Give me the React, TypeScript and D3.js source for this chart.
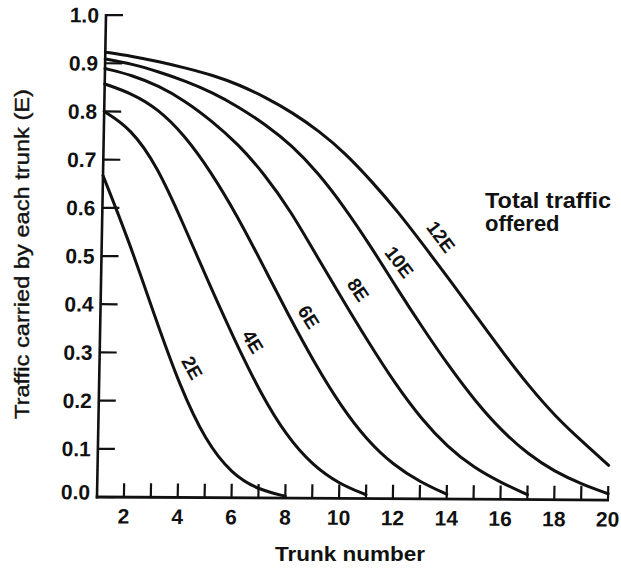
import React from 'react';
import * as d3 from 'd3';

const TRUNKS = [1, 2, 3, 4, 5, 6, 7, 8, 9, 10, 11, 12, 13, 14, 15, 16, 17, 18, 19, 20];
const X_TICKS = [2, 3, 4, 5, 6, 7, 8, 9, 10, 11, 12, 13, 14, 15, 16, 17, 18, 19, 20];
const X_TICK_LABELS = [2, 4, 6, 8, 10, 12, 14, 16, 18, 20];
const Y_TICKS = [0, 0.1, 0.2, 0.3, 0.4, 0.5, 0.6, 0.7, 0.8, 0.9, 1.0];

// traffic carried by each trunk (E), trunk 1 onwards
const carried2E = [0.667, 0.533, 0.379, 0.231, 0.117, 0.049, 0.017, 0.004];
const carried4E = [0.80, 0.765, 0.688, 0.57, 0.446, 0.328, 0.218, 0.129, 0.068, 0.03, 0.008];
const carried6E = [0.857, 0.838, 0.806, 0.752, 0.677, 0.587, 0.484, 0.379, 0.28, 0.192, 0.121, 0.07, 0.035, 0.01];
const carried8E = [0.889, 0.876, 0.854, 0.823, 0.782, 0.734, 0.672, 0.596, 0.503, 0.412, 0.323, 0.239, 0.166, 0.108, 0.065, 0.035, 0.01];
const carried10E = [0.909, 0.899, 0.883, 0.864, 0.841, 0.811, 0.775, 0.732, 0.675, 0.604, 0.524, 0.437, 0.354, 0.275, 0.203, 0.142, 0.094, 0.058, 0.033, 0.013];
const carried12E = [0.923, 0.915, 0.904, 0.891, 0.877, 0.857, 0.831, 0.80, 0.762, 0.716, 0.658, 0.595, 0.524, 0.452, 0.378, 0.304, 0.234, 0.172, 0.121, 0.072];

const SERIES_NAMES = ['2E', '4E', '6E', '8E', '10E', '12E'];
const SERIES_VALUES = [carried2E, carried4E, carried6E, carried8E, carried10E, carried12E];
// label anchor (trunk, value) and text angle for each curve
const LABEL_TRUNK = [4.44, 6.68, 8.74, 10.56, 12.07, 13.6];
const LABEL_VALUE = [0.269, 0.324, 0.376, 0.433, 0.491, 0.544];
const LABEL_ANGLE = [60, 58, 57, 55, 52, 52];

const W = 621;
const H = 569;
const FONT = "'Liberation Sans', Arial, Helvetica, sans-serif";

export default function App() {
  const x = d3.scaleLinear().domain([1, 20]).range([97, 608]);
  const y = d3.scaleLinear().domain([0, 1]).range([497, 15]);
  const line = d3
    .line<[number, number]>()
    .x((d) => x(d[0]))
    .y((d) => y(d[1]))
    .curve(d3.curveBasis);

  const x0 = x(1);
  const y0 = y(0);
  const skew = `translate(${x0},${y0}) skewY(0.34) skewX(-1.07) translate(${-x0},${-y0})`;

  return (
    <svg
      width={W}
      height={H}
      viewBox={`0 0 ${W} ${H}`}
      style={{ position: 'absolute', left: 0, top: 0, background: '#fff' }}
    >
      <rect x={0} y={0} width={W} height={H} fill="#fff" />
      <g transform={skew} fontFamily={FONT} fill="#111">
        {/* y axis */}
        <line x1={x0} x2={x0} y1={y(0) + 1.5} y2={y(1) - 1} stroke="#111" strokeWidth={2.6} />
        {Y_TICKS.map((t) => (
          <g key={`yt${t}`}>
            <line x1={x0} x2={x0 + 17} y1={y(t)} y2={y(t)} stroke="#111" strokeWidth={2.2} />
            <text
              x={x0 - 7}
              y={y(t) - (t === 0 ? 5 : 0)}
              textAnchor="end"
              dominantBaseline="central"
              fontSize={21}
              fontWeight="bold"
            >
              {t.toFixed(1)}
            </text>
          </g>
        ))}
        {/* x axis */}
        <line x1={x0 - 1.3} x2={x(20) + 1} y1={y0} y2={y0} stroke="#111" strokeWidth={2.8} />
        {X_TICKS.map((t) => (
          <line key={`xt${t}`} x1={x(t)} x2={x(t)} y1={y0} y2={y0 - 14} stroke="#111" strokeWidth={2.2} />
        ))}
        {X_TICK_LABELS.map((t) => (
          <text
            key={`xl${t}`}
            x={x(t)}
            y={y0 + 19}
            textAnchor="middle"
            dominantBaseline="central"
            fontSize={21}
            fontWeight="bold"
          >
            {t}
          </text>
        ))}
        {/* curves */}
        {SERIES_VALUES.map((vals, i) => (
          <path
            key={`c${i}`}
            d={line(vals.map((v, j) => [TRUNKS[j], v] as [number, number])) || ''}
            fill="none"
            stroke="#111"
            strokeWidth={3}
            strokeLinecap="round"
          />
        ))}
        {SERIES_NAMES.map((name, i) => (
          <text
            key={`l${i}`}
            transform={`translate(${x(LABEL_TRUNK[i])},${y(LABEL_VALUE[i])}) rotate(${LABEL_ANGLE[i]})`}
            textAnchor="middle"
            dominantBaseline="central"
            fontSize={19}
            fontWeight="bold"
          >
            {name}
          </text>
        ))}
      </g>
      {/* axis titles */}
      <text
        x={350}
        y={561}
        textAnchor="middle"
        fontFamily={FONT}
        fontSize={21}
        fontWeight="bold"
        fill="#111"
        textLength={150}
        lengthAdjust="spacingAndGlyphs"
      >
        Trunk number
      </text>
      <text
        transform="translate(29,254) rotate(-90)"
        textAnchor="middle"
        fontFamily={FONT}
        fontSize={21}
        fill="#111"
        stroke="#111"
        strokeWidth={0.4}
        textLength={330}
        lengthAdjust="spacingAndGlyphs"
      >
        Traffic carried by each trunk (E)
      </text>
      <text x={485} y={208} fontFamily={FONT} fontSize={22} fontWeight="bold" fill="#111" textLength={126} lengthAdjust="spacingAndGlyphs">
        Total traffic
      </text>
      <text x={485} y={231} fontFamily={FONT} fontSize={22} fontWeight="bold" fill="#111">
        offered
      </text>
    </svg>
  );
}
